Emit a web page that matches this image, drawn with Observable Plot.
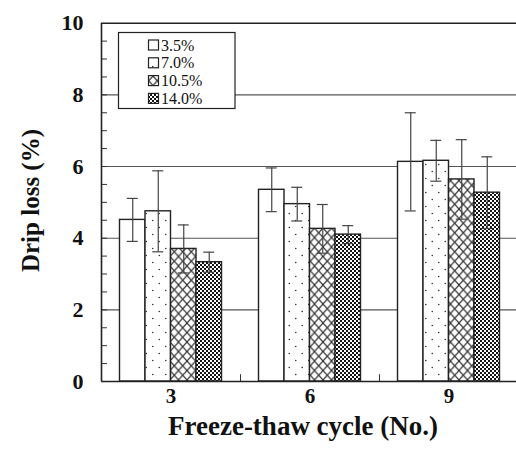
<!DOCTYPE html>
<html>
<head>
<meta charset="utf-8">
<script src="https://cdn.jsdelivr.net/npm/d3@7"></script>
<script src="https://cdn.jsdelivr.net/npm/@observablehq/plot@0.6"></script>
<style>
  body { margin: 0; background: #fff; }
  #chart { width: 516px; height: 467px; }
</style>
</head>
<body>
<div id="chart"></div>
<script>
// ---- data ----
const cycles = ["3", "6", "9"];
const series = ["3.5%", "7.0%", "10.5%", "14.0%"];
const drip35  = [4.51, 5.35, 6.13];
const drip70  = [4.75, 4.95, 6.16];
const drip105 = [3.70, 4.26, 5.64];
const drip140 = [3.33, 4.10, 5.27];
const sd35  = [0.60, 0.61, 1.37];
const sd70  = [1.13, 0.47, 0.57];
const sd105 = [0.67, 0.68, 1.11];
const sd140 = [0.28, 0.25, 1.00];
const yTicks = [0, 2, 4, 6, 8, 10];
const gridValues = [2, 4, 6, 8];
const yTitle = "Drip loss (%)";
const xTitle = "Freeze-thaw cycle (No.)";

const means = [drip35, drip70, drip105, drip140];
const sds = [sd35, sd70, sd105, sd140];
const data = cycles.flatMap((c, gi) =>
  series.map((s, si) => ({cycle: c, gi, series: s, si, mean: means[si][gi], sd: sds[si][gi]}))
);

// ---- layout ----
const FONT = '"Liberation Serif", "Times New Roman", Times, serif';
const BW = 25.5 / 139;   // bar width in group units
const CAP = 5.5 / 139;   // half cap width
const cx = d => d.gi + 0.5 + (d.si - 1.5) * BW;

const plot = Plot.plot({
  width: 516,
  height: 467,
  marginLeft: 101,
  marginRight: 0,
  marginTop: 23,
  marginBottom: 86,
  style: {fontFamily: FONT, background: "white", color: "#111", overflow: "hidden"},
  x: {type: "linear", domain: [0, 3], range: [101, 518]},
  y: {domain: [0, 10], range: [381, 22.7]},
  color: {type: "ordinal", domain: series, range: ["white", "url(#pDots)", "url(#pHatch)", "url(#pCheck)"]},
  marks: [
    Plot.ruleY(gridValues, {stroke: "#555", strokeWidth: 1.1}),
    Plot.rect(data, {
      x1: d => cx(d) - BW / 2, x2: d => cx(d) + BW / 2,
      y1: 0, y2: "mean",
      fill: "series", stroke: "#222", strokeWidth: 1.4
    }),
    Plot.ruleX(data, {x: cx, y1: d => d.mean - d.sd, y2: d => d.mean + d.sd, stroke: "#444", strokeWidth: 1.2}),
    Plot.ruleY(data, {y: d => d.mean + d.sd, x1: d => cx(d) - CAP, x2: d => cx(d) + CAP, stroke: "#444", strokeWidth: 1.2}),
    Plot.ruleY(data, {y: d => d.mean - d.sd, x1: d => cx(d) - CAP, x2: d => cx(d) + CAP, stroke: "#444", strokeWidth: 1.2}),
    Plot.ruleY(d3.range(0.5, 10, 0.5), {x1: 0, x2: 0.043, stroke: "#333", strokeWidth: 1}),
    Plot.ruleX([1, 2], {y1: 0, y2: 0.19, stroke: "#333", strokeWidth: 1}),
    Plot.ruleY([0, 10], {stroke: "#222", strokeWidth: 1.6}),
    Plot.ruleX([0], {stroke: "#222", strokeWidth: 1.6}),
    Plot.axisY(yTicks, {tickSize: 0, tickPadding: 18, fontSize: 22, fontWeight: "bold", fontFamily: FONT, label: null}),
    Plot.axisX(cycles.map((c, i) => i + 0.5), {
      tickSize: 0, tickPadding: 7, fontSize: 21, fontWeight: "bold", fontFamily: FONT, label: null,
      tickFormat: d => cycles[Math.floor(d)]
    }),
    Plot.text([yTitle], {
      text: d => d, frameAnchor: "left", textAnchor: "middle", lineAnchor: "middle",
      dx: -71, dy: -2, rotate: -90, fontSize: 25, fontWeight: "bold", fontFamily: FONT
    }),
    Plot.text([xTitle], {
      text: d => d, frameAnchor: "bottom", textAnchor: "middle", lineAnchor: "middle",
      dx: -6, dy: 44.5, fontSize: 27, fontWeight: "bold", fontFamily: FONT
    })
  ]
});

// ---- patterns ----
const svg = d3.select(plot);
const defs = svg.insert("defs", ":first-child");
const pd = defs.append("pattern").attr("id", "pDots").attr("patternUnits", "userSpaceOnUse")
  .attr("width", 13).attr("height", 14);
pd.append("rect").attr("width", 13).attr("height", 14).attr("fill", "white");
pd.append("circle").attr("cx", 3.25).attr("cy", 3.5).attr("r", 0.8).attr("fill", "#333");
pd.append("circle").attr("cx", 9.75).attr("cy", 10.5).attr("r", 0.8).attr("fill", "#333");

const ph = defs.append("pattern").attr("id", "pHatch").attr("patternUnits", "userSpaceOnUse")
  .attr("width", 8.5).attr("height", 9.5);
ph.append("rect").attr("width", 8.5).attr("height", 9.5).attr("fill", "white");
ph.append("path").attr("d", "M0,0L8.5,9.5M8.5,0L0,9.5").attr("stroke", "#333").attr("stroke-width", 1.2);

const pc = defs.append("pattern").attr("id", "pCheck").attr("patternUnits", "userSpaceOnUse")
  .attr("width", 4).attr("height", 4);
pc.append("rect").attr("width", 4).attr("height", 4).attr("fill", "white");
pc.append("rect").attr("width", 2).attr("height", 2).attr("fill", "#111");
pc.append("rect").attr("x", 2).attr("y", 2).attr("width", 2).attr("height", 2).attr("fill", "#111");

// ---- legend ----
const color = plot.scale("color");
const lg = svg.append("g").attr("font-family", FONT).attr("text-anchor", "start");
lg.append("rect").attr("x", 118.5).attr("y", 32.5).attr("width", 116.5).attr("height", 76)
  .attr("fill", "white").attr("stroke", "#222").attr("stroke-width", 1.2);
series.forEach((s, i) => {
  const y = 45 + i * 17.8;
  lg.append("rect").attr("x", 148.5).attr("y", y - 5).attr("width", 10).attr("height", 10)
    .attr("fill", color.apply(s)).attr("stroke", "#222").attr("stroke-width", 1.2);
  lg.append("text").attr("x", 161).attr("y", y).attr("dy", "0.35em")
    .attr("text-anchor", "start").attr("font-size", 16).attr("fill", "#111").text(s);
});

document.getElementById("chart").appendChild(plot);
</script>
</body>
</html>
